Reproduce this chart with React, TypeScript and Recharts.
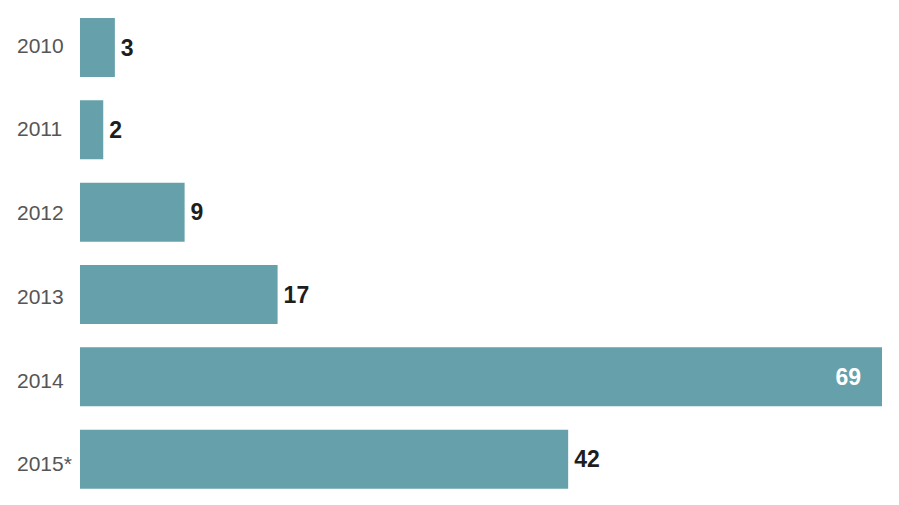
import React from "react";
import { BarChart, Bar, XAxis, YAxis, LabelList } from "recharts";

const years = ["2010", "2011", "2012", "2013", "2014", "2015*"];
const values = [3, 2, 9, 17, 69, 42];

const data = years.map((year, i) => ({ year, value: values[i] }));
const maxValue = Math.max(...values);

const FONT = "Liberation Sans, Arial, sans-serif";

const YearTick = (props: any) => {
  const { y, payload, index } = props;
  const shift = -2 + 1.4 * (index ?? 0);
  return (
    <text
      x={17}
      y={y + shift}
      textAnchor="start"
      dominantBaseline="central"
      fill="#555555"
      fontSize={21}
      fontFamily={FONT}
    >
      {payload.value}
    </text>
  );
};

const ValueLabel = (props: any) => {
  const { x, y, width, height, value } = props;
  const cy = y + height / 2;
  if (value === maxValue) {
    return (
      <text
        x={x + width - 21}
        y={cy}
        textAnchor="end"
        dominantBaseline="central"
        fill="#ffffff"
        fontSize={23}
        fontWeight="bold"
        fontFamily={FONT}
      >
        {value}
      </text>
    );
  }
  return (
    <text
      x={x + width + 6}
      y={cy}
      textAnchor="start"
      dominantBaseline="central"
      fill="#1e1e1e"
      fontSize={23}
      fontWeight="bold"
      fontFamily={FONT}
    >
      {value}
    </text>
  );
};

export default function App() {
  return (
    <div style={{ position: "absolute", left: 0, top: 0, width: 899, height: 505, background: "#fff" }}>
      <BarChart
        width={899}
        height={505}
        data={data}
        layout="vertical"
        margin={{ top: 6, right: 17, bottom: 5, left: 0 }}
        barSize={59}
      >
        <XAxis type="number" domain={[0, 69]} hide />
        <YAxis
          type="category"
          dataKey="year"
          width={80}
          axisLine={false}
          tickLine={false}
          tick={YearTick}
        />
        <Bar dataKey="value" fill="#66a0ab" isAnimationActive={false}>
          <LabelList dataKey="value" content={ValueLabel} />
        </Bar>
      </BarChart>
    </div>
  );
}
